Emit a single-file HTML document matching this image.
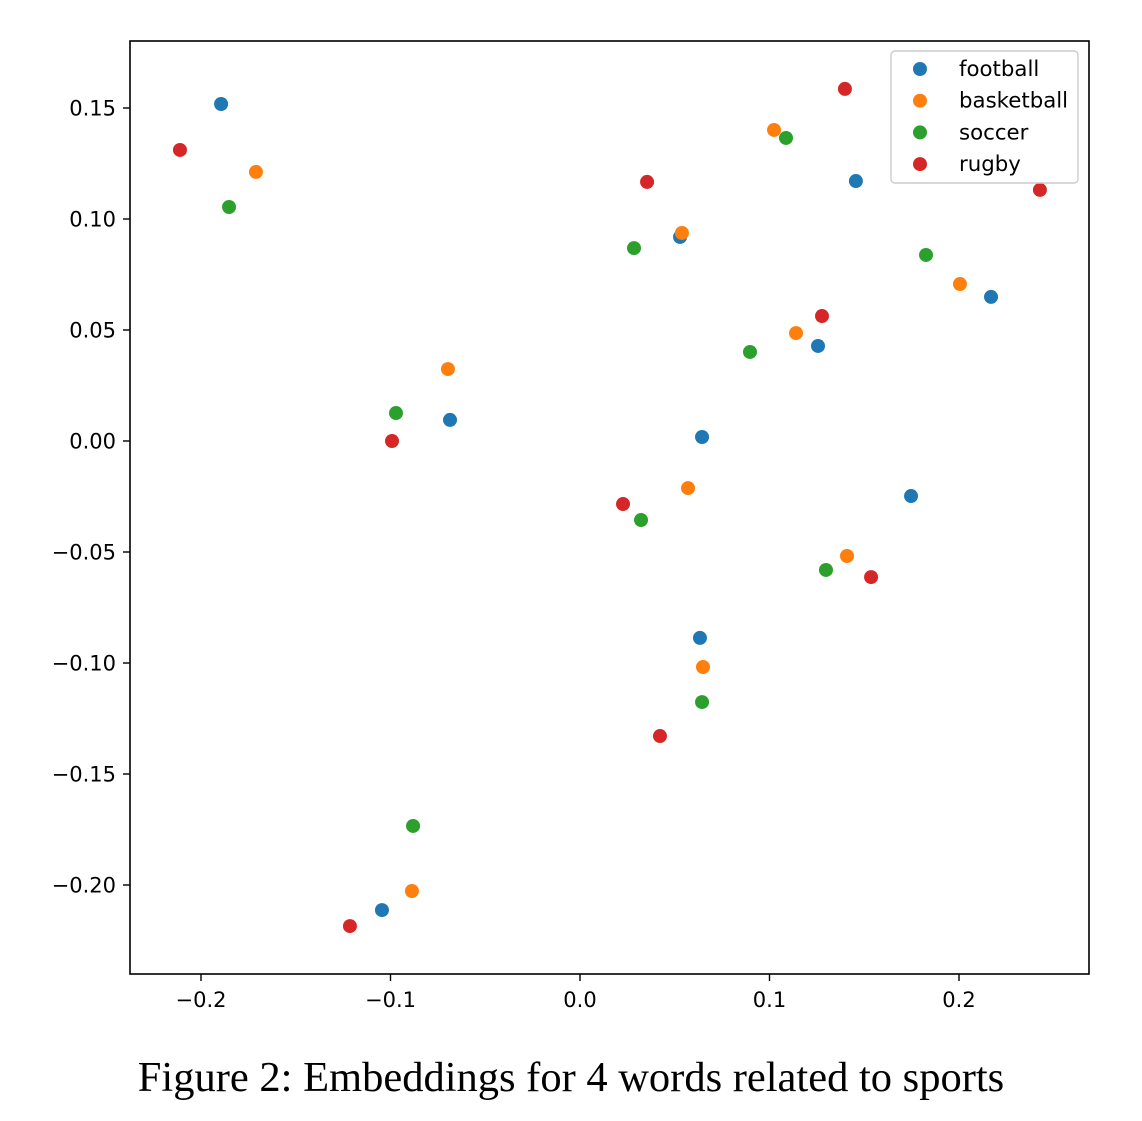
<!DOCTYPE html>
<html><head><meta charset="utf-8"><style>
body{margin:0;background:#fff;width:1142px;height:1116px;overflow:hidden}
svg text{font-family:"DejaVu Sans","Liberation Sans",sans-serif}
</style></head><body>
<svg id="chart" width="1142" height="1116" xmlns="http://www.w3.org/2000/svg">
<g id="ticks"></g>
<g id="points"></g>
<rect x="130" y="41" width="959" height="933" fill="none" stroke="#000" stroke-width="1.6"/>
<g>
<rect x="891" y="51" width="187" height="132" rx="4" fill="#fff" fill-opacity="0.8" stroke="#ccc" stroke-width="1.4"/>
<g id="legend-items"></g>
</g>
<text x="571" y="1091" text-anchor="middle" font-size="42.5" style="font-family:'Liberation Serif',serif">Figure 2: Embeddings for 4 words related to sports</text>
</svg>
<script>
const seriesNames=["football","basketball","soccer","rugby"];
const colors=["#1f77b4","#ff7f0e","#2ca02c","#d62728"];
const footballX=[-0.1894,0.0528,0.1456,0.2169,0.1256,-0.0686,0.0644,0.1747,0.0633,-0.1045];
const footballY=[0.1518,0.0919,0.1171,0.0649,0.0428,0.0095,0.0018,-0.0248,-0.0887,-0.2113];
const basketballX=[-0.171,0.1024,0.0538,0.2005,0.1140,-0.0697,0.0570,0.1409,0.0649,-0.0887];
const basketballY=[0.1212,0.1401,0.0937,0.0707,0.0486,0.0324,-0.0212,-0.0518,-0.1018,-0.2027];
const soccerX=[-0.1852,0.1087,0.0285,0.1826,0.0897,-0.0971,0.0322,0.1298,0.0644,-0.0881];
const soccerY=[0.1054,0.1365,0.0869,0.0838,0.0401,0.0126,-0.0356,-0.0581,-0.1176,-0.1734];
const rugbyX=[-0.2111,0.1398,0.0354,0.2427,0.1277,-0.0992,0.0227,0.1536,0.0422,-0.1214];
const rugbyY=[0.1311,0.1586,0.1167,0.1131,0.0563,0.0,-0.0284,-0.0613,-0.1329,-0.2185];
const xTicks=[-0.2,-0.1,0.0,0.1,0.2];
const xTickLabels=["\u22120.2","\u22120.1","0.0","0.1","0.2"];
const yTicks=[0.15,0.10,0.05,0.00,-0.05,-0.10,-0.15,-0.20];
const yTickLabels=["0.15","0.10","0.05","0.00","\u22120.05","\u22120.10","\u22120.15","\u22120.20"];
const NS="http://www.w3.org/2000/svg";
const sx=v=>580+v*1895, sy=v=>441-v*2220;
const tg=document.getElementById('ticks');
xTicks.forEach((t,i)=>{
 const l=document.createElementNS(NS,'line');
 l.setAttribute('x1',sx(t));l.setAttribute('x2',sx(t));l.setAttribute('y1',974);l.setAttribute('y2',981);l.setAttribute('stroke','#000');l.setAttribute('stroke-width','1.4');
 
 
 tg.appendChild(l);
 const tx=document.createElementNS(NS,'text');
 tx.setAttribute('x',sx(t));tx.setAttribute('y',1007);tx.setAttribute('text-anchor','middle');tx.setAttribute('font-size','21');tx.textContent=xTickLabels[i];
 
 
 tg.appendChild(tx);
});
yTicks.forEach((t,i)=>{
 const l=document.createElementNS(NS,'line');
 l.setAttribute('x1',123);l.setAttribute('x2',130);l.setAttribute('y1',sy(t));l.setAttribute('y2',sy(t));l.setAttribute('stroke','#000');l.setAttribute('stroke-width','1.4');
 
 
 tg.appendChild(l);
 const tx=document.createElementNS(NS,'text');
 tx.setAttribute('x',116);tx.setAttribute('y',sy(t)+7.5);tx.setAttribute('text-anchor','end');tx.setAttribute('font-size','21');tx.textContent=yTickLabels[i];
 
 
 tg.appendChild(tx);
});
const xs=[footballX,basketballX,soccerX,rugbyX], ys=[footballY,basketballY,soccerY,rugbyY];
const pg=document.getElementById('points');
xs.forEach((arr,s)=>{arr.forEach((v,i)=>{
 const c=document.createElementNS(NS,'circle');
 c.setAttribute('cx',sx(v));c.setAttribute('cy',sy(ys[s][i]));c.setAttribute('r',7);c.setAttribute('fill',colors[s]);
 
 
 pg.appendChild(c);
});});
const lg=document.getElementById('legend-items');
seriesNames.forEach((n,i)=>{
 const y=69+i*31.7;
 const c=document.createElementNS(NS,'circle');
 c.setAttribute('cx',920);c.setAttribute('cy',y);c.setAttribute('r',7);c.setAttribute('fill',colors[i]);
 
 
 lg.appendChild(c);
 const t=document.createElementNS(NS,'text');
 t.setAttribute('x',959);t.setAttribute('y',y+7);t.setAttribute('font-size','21.3');t.textContent=n;
 
 
 lg.appendChild(t);
});
</script>
</body></html>
